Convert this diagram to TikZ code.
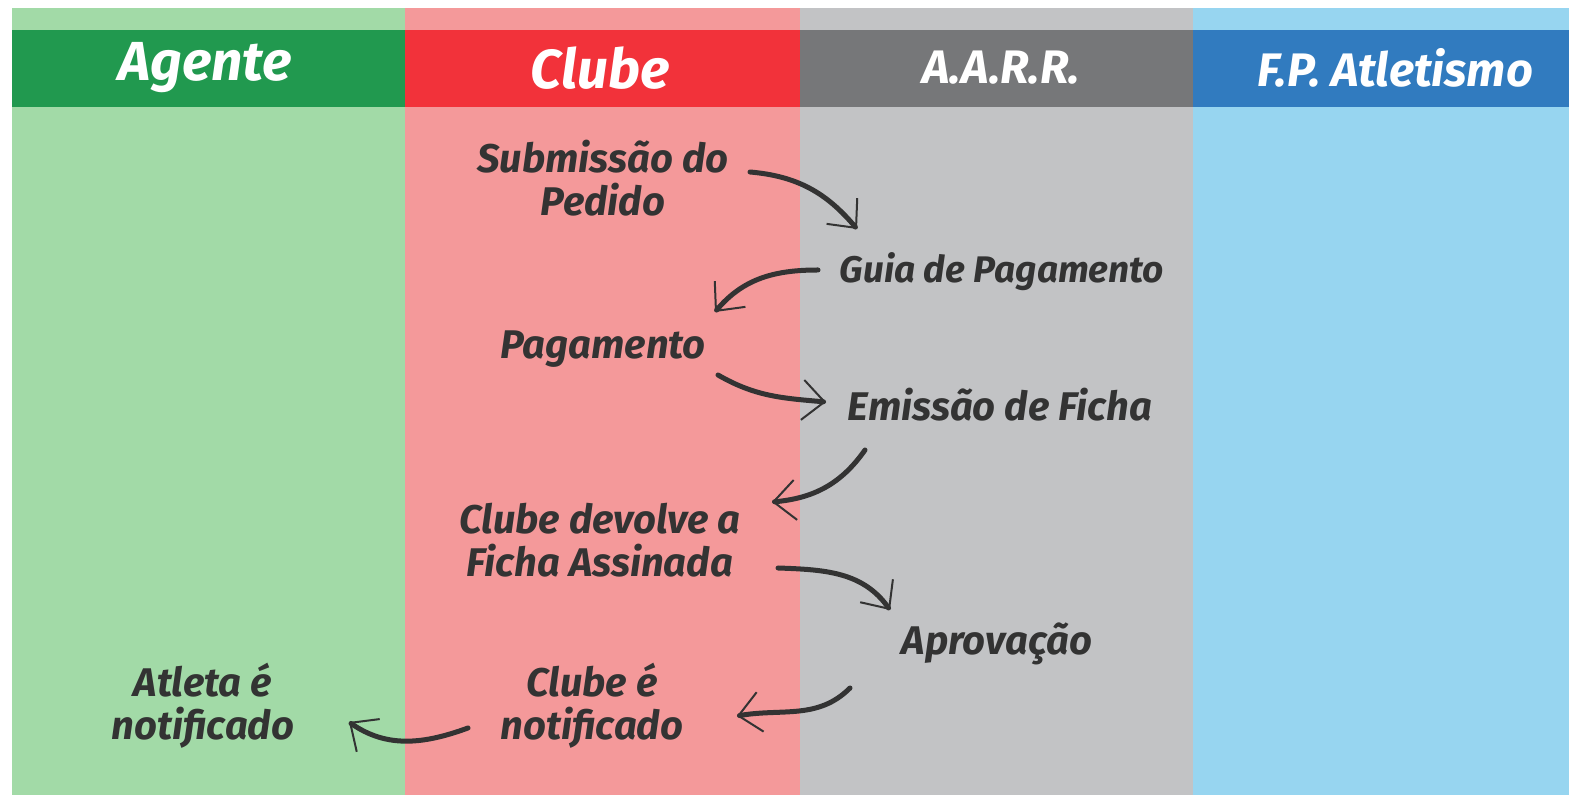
\documentclass[tikz,border=0pt]{standalone}
\usepackage{fontspec}
\setmainfont{Fira Sans}
\usetikzlibrary{arrows.meta,positioning}
\definecolor{agentelight}{RGB}{162,218,167}
\definecolor{agentedark}{RGB}{33,153,79}
\definecolor{clubelight}{RGB}{244,153,154}
\definecolor{clubedark}{RGB}{242,50,58}
\definecolor{aarrlight}{RGB}{194,195,197}
\definecolor{aarrdark}{RGB}{118,119,121}
\definecolor{fpalight}{RGB}{151,213,240}
\definecolor{fpadark}{RGB}{49,123,191}
\definecolor{inkgray}{RGB}{51,51,51}

\begin{document}
\begin{tikzpicture}
  [x=0.5pt,y=-0.5pt,
    lanehead/.style={font=\fontsize{27.5}{30}\selectfont\bfseries\itshape,text=white,inner sep=0pt},
    lanesmall/.style={lanehead,font=\fontsize{23.5}{26}\selectfont\bfseries\itshape},
    task/.style={font=\fontsize{20}{21.5}\selectfont\bfseries\itshape,text=inkgray,align=center,inner sep=2pt},
    tasksmall/.style={task,font=\fontsize{18.5}{21.5}\selectfont\bfseries\itshape},
    flow/.style={draw=inkgray,line width=2.5pt,line cap=round,
      -{Straight Barb[length=11pt,width=20pt,line width=1pt]}}]
  \useasboundingbox (0,0) rectangle (1569,795);
  % lanes
  \fill[agentelight] (12,8) rectangle (405,795);
  \fill[clubelight] (405,8) rectangle (800,795);
  \fill[aarrlight] (800,8) rectangle (1193,795);
  \fill[fpalight] (1193,8) rectangle (1569,795);
  \fill[agentedark] (12,30) rectangle (405,107);
  \fill[clubedark] (405,30) rectangle (800,107);
  \fill[aarrdark] (800,30) rectangle (1193,107);
  \fill[fpadark] (1193,30) rectangle (1569,107);
  \node[lanehead] (agente) at (205,68) {Agente};
  \node[lanehead] (clube) at (600,68) {Clube};
  \node[lanesmall] (aarr) at (1001,68) {A.A.R.R.};
  \node[lanesmall] (fpa) at (1395,68) {F.P. Atletismo};
  % tasks
  \node[task] (pedido) at (603,178) {Submissão do\\Pedido};
  \node[tasksmall] (guia) at (1002,272) {Guia de Pagamento};
  \node[task] (pagamento) at (603,349) {Pagamento};
  \node[task] (emissao) at (1000,405) {Emissão de Ficha};
  \node[task] (devolve) at (600,540) {Clube devolve a\\Ficha Assinada};
  \node[task] (aprovacao) at (997,644) {Aprovação};
  \node[task] (clubenot) at (592,706) {Clube é\\notificado};
  \node[task] (atleta) at (203,706) {Atleta é\\notificado};
  % flows
  \draw[flow] ([shift={(147,-6)}]pedido.center) to[out=-5,in=130] ([shift={(-145,-43)}]guia.center);
  \draw[flow] ([shift={(-184,-2)}]guia.center) to[out=180,in=50] ([shift={(112,-37)}]pagamento.center);
  \draw[flow] ([shift={(115,26)}]pagamento.center) to[out=-30,in=175] ([shift={(-174,-3)}]emissao.center);
  \draw[flow] ([shift={(-135,45)}]emissao.center) to[out=-125,in=5] ([shift={(172,-38)}]devolve.center);
  \draw[flow] ([shift={(178,28)}]devolve.center) to[out=-2,in=125] ([shift={(-107,-34)}]aprovacao.center);
  \draw[flow] ([shift={(-147,44)}]aprovacao.center) to[out=-135,in=10] ([shift={(145,10)}]clubenot.center);
  \draw[flow] ([shift={(-124,22)}]clubenot.center) to[out=-160,in=-35] ([shift={(146,16)}]atleta.center);
\end{tikzpicture}
\end{document}
